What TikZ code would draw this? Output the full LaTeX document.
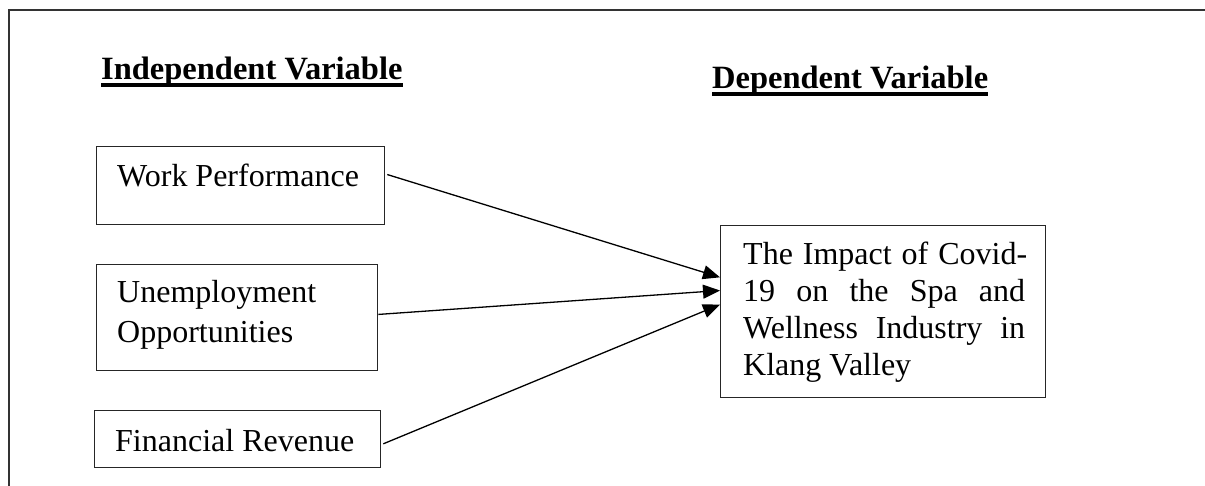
\documentclass[tikz,border=0pt]{standalone}
\usepackage{fontspec}
\setmainfont{Liberation Serif}
\usetikzlibrary{arrows.meta,calc}
\begin{document}
\begin{tikzpicture}[x=1pt,y=-1pt,
  box/.style={draw=black!85,line width=1.3pt,rectangle,inner sep=0pt,anchor=north west},
  lbl/.style={inner sep=0pt,anchor=base west,font=\fontsize{32}{36.7}\selectfont},
  head/.style={inner sep=0pt,anchor=base west,font=\fontsize{32.5}{36.7}\selectfont\bfseries},
  ul/.style={line width=3.2pt,black},
  link/.style={line width=1.3pt,black,-{Triangle[length=17pt,width=14pt]}},
  frame/.style={line width=1.5pt,black!80}]
\useasboundingbox (0,0) rectangle (1205,486);
% outer frame (top and left edges)
\draw[frame] (9,486) -- (9,10) -- (1205,10);

% headings
\node[head] (ih) at (101,80) {Independent Variable};
\node[head] (dh) at (712,89) {Dependent Variable};
\draw[ul] ([yshift=-5pt]ih.base west) -- ([yshift=-5pt]ih.base east);
\draw[ul] ([yshift=-5pt]dh.base west) -- ([yshift=-5pt]dh.base east);

% independent variable boxes
\node[box,minimum width=288pt,minimum height=78pt] (wp) at (96,146) {};
\node[lbl] (wpt) at (117,187) {Work Performance};

\node[box,minimum width=281pt,minimum height=106pt] (uo) at (96,264) {};
\node[lbl] (uot1) at (117,303) {Unemployment};
\node[lbl] (uot2) at (117,342) {Opportunities};

\node[box,minimum width=286pt,minimum height=57pt] (fr) at (94,410) {};
\node[lbl] (frt) at (115,451) {Financial Revenue};

% dependent variable box
\node[box,minimum width=325pt,minimum height=172pt] (dv) at (720,225) {};
\node[lbl] (dv1) at (743,265) {\hbox to 284pt{The\hfill Impact\hfill of\hfill Covid-}};
\node[lbl] (dv2) at (743,302) {\hbox to 282pt{19\hfill on\hfill the\hfill Spa\hfill and}};
\node[lbl] (dv3) at (743,338) {\hbox to 282pt{Wellness\hfill Industry\hfill in}};
\node[lbl] (dv4) at (743,375) {Klang Valley};

% connectors
\draw[link] ($(wp.north east)!0.36!(wp.south east)+(2,0)$) -- ($(dv.north west)!0.302!(dv.south west)$);
\draw[link] ($(uo.north east)!0.47!(uo.south east)$) -- ($(dv.north west)!0.378!(dv.south west)$);
\draw[link] ($(fr.north east)!0.58!(fr.south east)+(2,0)$) -- ($(dv.north west)!0.459!(dv.south west)$);
\end{tikzpicture}
\end{document}
